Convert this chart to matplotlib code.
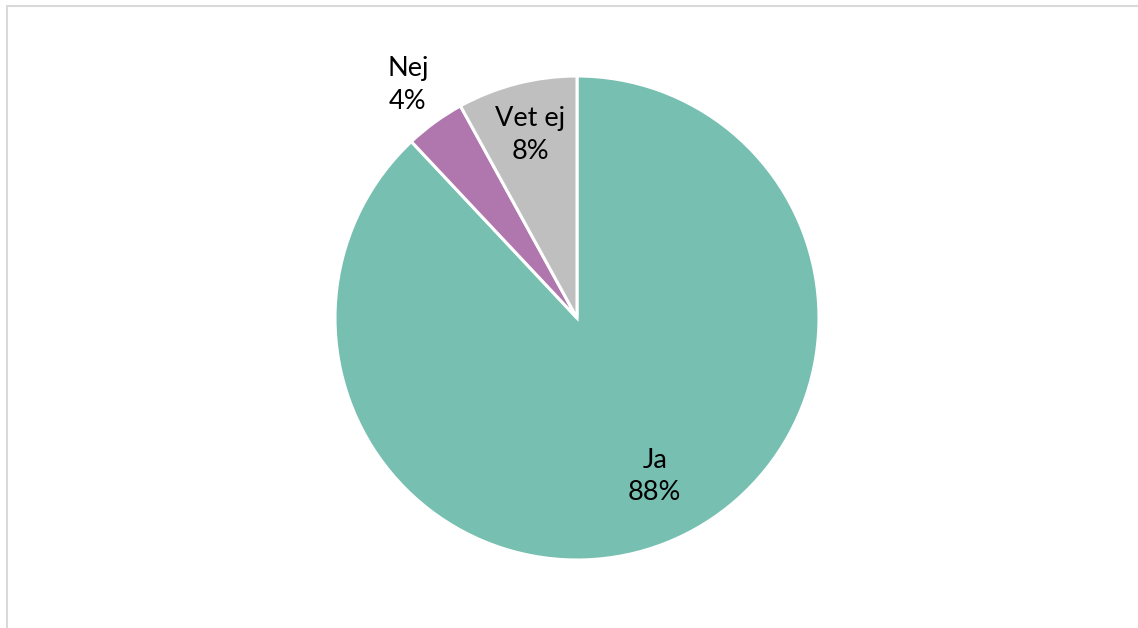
import numpy as np
import matplotlib
matplotlib.use("Agg")
import matplotlib.pyplot as plt
from matplotlib.patches import Rectangle

categories = ["Ja", "Nej", "Vet ej"]
values = [88, 4, 8]
colors = ["#76BFB1", "#AF77AE", "#BFBFBF"]
# label placement style (radius fraction, angle shift in degrees)
label_dist = [0.73, 1.19, 0.78]
label_shift = [4.5, 0.0, 0.0]

plt.rcParams['font.family'] = ['Lato', 'DejaVu Sans']

W, H = 1138, 628
fig = plt.figure(figsize=(W / 100, H / 100), dpi=100)
ax = fig.add_axes([0, 0, 1, 1])

# chart frame
fig.patches.append(Rectangle((6.5 / W, -0.1), 2, (H - 6.5) / H + 0.1, transform=fig.transFigure,
                             fill=False, edgecolor="#D9D9D9", linewidth=1.5))

cx, cy, r = 577, H - 318, 242
wedges, _ = ax.pie(values, colors=colors, startangle=90, counterclock=False,
                   center=(cx, cy), radius=r, frame=True,
                   wedgeprops=dict(edgecolor="white", linewidth=2.2))
ax.set_xlim(0, W)
ax.set_ylim(0, H)
ax.set_aspect('equal')
ax.axis('off')

for w, cat, v, d, s in zip(wedges, categories, values, label_dist, label_shift):
    ang = np.deg2rad((w.theta1 + w.theta2) / 2 + s)
    x = cx + d * r * np.cos(ang)
    y = cy + d * r * np.sin(ang)
    ax.text(x, y, f"{cat}\n{v}%", ha="center", va="center", fontsize=19.5,
            color="black", linespacing=1.38)

fig.savefig("out.png", dpi=100, facecolor="white")
